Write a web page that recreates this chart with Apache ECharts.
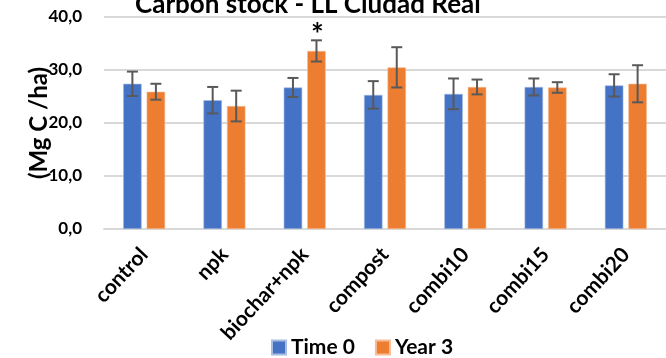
<!DOCTYPE html>
<html>
<head>
<meta charset="utf-8">
<script src="https://cdn.jsdelivr.net/npm/echarts@6/dist/echarts.min.js"></script>
<style>
  html, body { margin: 0; padding: 0; background: #fff; }
  #chart { width: 666px; height: 358px; }
</style>
</head>
<body>
<div id="chart"></div>
<script>
// Treatments and carbon stock (Mg C/ha), mean and standard deviation
const categories = ['control', 'npk', 'biochar+npk', 'compost', 'combi10', 'combi15', 'combi20'];
const time0 = [27.4, 24.3, 26.7, 25.3, 25.5, 26.8, 27.1];
const time0Err = [2.3, 2.5, 1.8, 2.6, 2.9, 1.6, 2.1];
const year3 = [25.9, 23.2, 33.6, 30.5, 26.8, 26.7, 27.4];
const year3Err = [1.5, 2.9, 2.0, 3.8, 1.4, 1.0, 3.5];
const year3Signif = ['', '', '*', '', '', '', ''];
const seriesNames = ['Time 0', 'Year 3'];
const yTicks = [0, 10, 20, 30, 40];

const FONT = 'Lato';
const BAR_W = 18.5;
const BAR_GAP = 5;
const ERR_COLOR = '#595959';

function errData(mean, err) {
  return mean.map((m, i) => [i, m - err[i], m + err[i]]);
}

function errorRenderer(offset, marks) {
  return function (params, api) {
    const i = api.value(0);
    const lo = api.coord([i, api.value(1)]);
    const hi = api.coord([i, api.value(2)]);
    const x = lo[0] + offset;
    const cap = 5.5;
    const style = { stroke: ERR_COLOR, lineWidth: 2 };
    const children = [
      { type: 'line', shape: { x1: x, y1: lo[1], x2: x, y2: hi[1] }, style },
      { type: 'line', shape: { x1: x - cap, y1: lo[1], x2: x + cap, y2: lo[1] }, style },
      { type: 'line', shape: { x1: x - cap, y1: hi[1], x2: x + cap, y2: hi[1] }, style }
    ];
    const mark = marks && marks[params.dataIndex];
    if (mark) {
      children.push({
        type: 'text',
        style: {
          x: x + 1, y: hi[1] + 10, text: mark,
          font: 'bold 30px ' + FONT, fill: '#000',
          align: 'center', verticalAlign: 'bottom'
        }
      });
    }
    return { type: 'group', children };
  };
}

const halfOffset = (BAR_W + BAR_GAP) / 2;

const chart = echarts.init(document.getElementById('chart'), null, { renderer: 'canvas' });
chart.setOption({
  animation: false,
  title: {
    text: 'Carbon stock - LL Ciudad Real',
    left: 130, top: -13,
    textStyle: { fontFamily: FONT, fontWeight: 'bold', fontSize: 26, color: '#000' }
  },
  legend: {
    data: seriesNames,
    left: 266, bottom: -5,
    icon: 'rect', itemWidth: 14, itemHeight: 14, itemGap: 20,
    textStyle: { fontFamily: FONT, fontWeight: 'bold', fontSize: 21, color: '#000' }
  },
  grid: { left: 104, top: 17, width: 577, height: 212 },
  xAxis: {
    type: 'category',
    data: categories,
    axisLine: { lineStyle: { color: '#d9d9d9', width: 2 } },
    axisTick: { show: false },
    axisLabel: {
      rotate: 47, interval: 0, margin: 22,
      fontFamily: FONT, fontWeight: 'bold', fontSize: 21, color: '#000'
    }
  },
  yAxis: {
    type: 'value',
    min: 0, max: 40, interval: 10,
    name: '(Mg C /ha)',
    nameLocation: 'middle', nameRotate: 90, nameGap: 53,
    nameMoveOverlap: false,
    nameTextStyle: { fontFamily: FONT, fontWeight: 'bold', fontSize: 24, color: '#000' },
    axisLine: { show: false },
    axisTick: { show: false },
    splitLine: { lineStyle: { color: '#d9d9d9', width: 2 } },
    axisLabel: {
      margin: 22,
      fontFamily: FONT, fontWeight: 'bold', fontSize: 17, color: '#000',
      formatter: v => yTicks.includes(v) ? v.toFixed(1).replace('.', ',') : ''
    }
  },
  series: [
    {
      name: seriesNames[0], type: 'bar', data: time0,
      barWidth: BAR_W, barGap: (BAR_GAP / BAR_W * 100) + '%',
      itemStyle: { color: '#4472C4', borderColor: '#a9bde3', borderWidth: 0.6 }
    },
    {
      name: seriesNames[1], type: 'bar', data: year3,
      barWidth: BAR_W,
      itemStyle: { color: '#ED7D31', borderColor: '#f7bd96', borderWidth: 0.6 }
    },
    {
      type: 'custom', data: errData(time0, time0Err),
      renderItem: errorRenderer(-halfOffset), z: 5, silent: true
    },
    {
      type: 'custom', data: errData(year3, year3Err),
      renderItem: errorRenderer(halfOffset, year3Signif), z: 5, silent: true
    }
  ]
});
</script>
</body>
</html>
